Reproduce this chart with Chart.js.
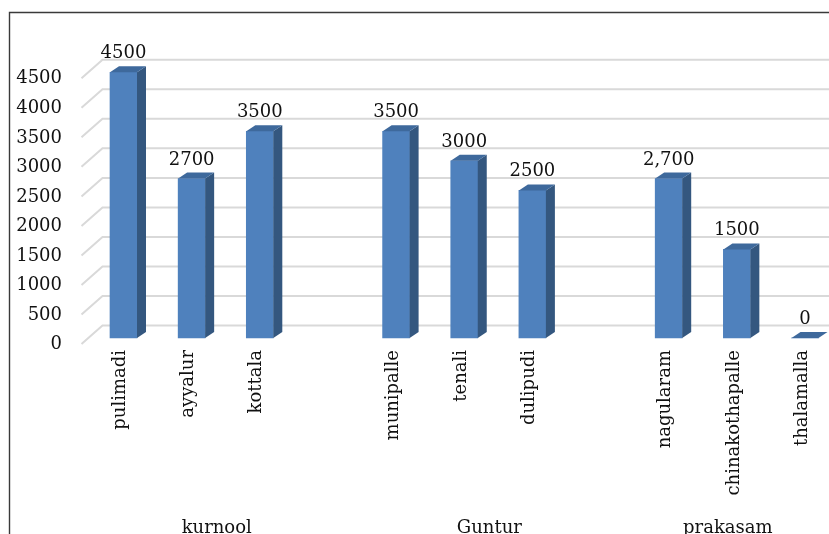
<!DOCTYPE html>
<html>
<head>
<meta charset="utf-8">
<script src="https://cdn.jsdelivr.net/npm/chart.js@4/dist/chart.umd.min.js"></script>
<style>
  html, body { margin: 0; padding: 0; background: #ffffff; }
  canvas { display: block; }
</style>
</head>
<body>
<canvas id="chart" width="829" height="534"></canvas>
<script>
// Villages, grouped by district; empty slots separate the districts
const villages = ['pulimadi', 'ayyalur', 'kottala', '', 'munipalle', 'tenali', 'dulipudi', '', 'nagularam', 'chinakothapalle', 'thalamalla'];
const values = [4500, 2700, 3500, null, 3500, 3000, 2500, null, 2700, 1500, 0];
const valueLabels = ['4500', '2700', '3500', '', '3500', '3000', '2500', '', '2,700', '1500', '0'];
const districts = ['kurnool', 'Guntur', 'prakasam'];
const districtSpans = [[0, 3], [4, 7], [8, 10]];
const yTickValues = [0, 500, 1000, 1500, 2000, 2500, 3000, 3500, 4000, 4500];

const FONT = 'DejaVu Serif';
const FONT_SIZE = 18;
const TEXT_COLOR = '#111111';
const FRONT = '#4F81BD';
const SIDE = '#34577F';
const TOP = '#3E699C';
const BAR_DX = 9, BAR_DY = -6;   // depth of each column
const WALL_DY = -12.5;           // back wall, relative to the column front
const FLOOR_DY = 6;              // front edge of the floor

const depthPlugin = {
  id: 'depth',
  beforeDatasetsDraw(chart) {
    const { ctx, scales: { y }, chartArea, width } = chart;
    const frontX = chartArea.left - 42;
    const wallX = chartArea.left - 21;
    ctx.save();
    ctx.strokeStyle = '#D9D9D9';
    ctx.lineWidth = 2;
    yTickValues.forEach(v => {
      const py = y.getPixelForValue(v);
      ctx.beginPath();
      ctx.moveTo(frontX, py + FLOOR_DY);
      ctx.lineTo(wallX, py + WALL_DY);
      ctx.lineTo(width, py + WALL_DY);
      ctx.stroke();
    });
    ctx.restore();
  },
  afterDatasetsDraw(chart) {
    const { ctx } = chart;
    const meta = chart.getDatasetMeta(0);
    ctx.save();
    meta.data.forEach((bar, i) => {
      if (values[i] === null) return;
      const { x, y, base, width } = bar.getProps(['x', 'y', 'base', 'width'], true);
      const l = x - width / 2, r = x + width / 2;
      // right side face
      ctx.fillStyle = SIDE;
      ctx.beginPath();
      ctx.moveTo(r, y);
      ctx.lineTo(r + BAR_DX, y + BAR_DY);
      ctx.lineTo(r + BAR_DX, base + BAR_DY);
      ctx.lineTo(r, base);
      ctx.closePath();
      ctx.fill();
      // top face
      ctx.fillStyle = TOP;
      ctx.beginPath();
      ctx.moveTo(l, y);
      ctx.lineTo(l + BAR_DX, y + BAR_DY);
      ctx.lineTo(r + BAR_DX, y + BAR_DY);
      ctx.lineTo(r, y);
      ctx.closePath();
      ctx.fill();
      // value label
      ctx.fillStyle = TEXT_COLOR;
      ctx.font = FONT_SIZE + 'px "' + FONT + '"';
      ctx.textAlign = 'center';
      ctx.textBaseline = 'alphabetic';
      ctx.fillText(valueLabels[i], x, y - 14);
    });
    ctx.restore();
  },
  afterDraw(chart) {
    const { ctx, scales: { x }, width, height } = chart;
    ctx.save();
    // district names under the village labels
    ctx.fillStyle = TEXT_COLOR;
    ctx.font = FONT_SIZE + 'px "' + FONT + '"';
    ctx.textAlign = 'center';
    ctx.textBaseline = 'alphabetic';
    districts.forEach((name, k) => {
      const [a, b] = districtSpans[k];
      const cx = (x.getPixelForTick(a) + x.getPixelForTick(b)) / 2 - 9;
      ctx.fillText(name, cx, 533);
    });
    // outer frame
    ctx.strokeStyle = '#3A3A3A';
    ctx.lineWidth = 1.4;
    ctx.beginPath();
    ctx.moveTo(9.5, height);
    ctx.lineTo(9.5, 12.5);
    ctx.lineTo(width, 12.5);
    ctx.stroke();
    ctx.restore();
  }
};

new Chart(document.getElementById('chart'), {
  type: 'bar',
  data: {
    labels: villages,
    datasets: [{
      data: values,
      backgroundColor: FRONT,
      borderWidth: 0,
      barThickness: 27,
      clip: false,
      skipNull: true
    }]
  },
  options: {
    responsive: false,
    animation: false,
    events: [],
    layout: { padding: { top: 52, right: 24, left: 0, bottom: 0 } },
    plugins: { legend: { display: false }, tooltip: { enabled: false } },
    scales: {
      x: {
        type: 'category',
        offset: false,
        grid: { display: false, drawTicks: false },
        border: { display: false },
        ticks: {
          autoSkip: false,
          minRotation: 90,
          maxRotation: 90,
          padding: 12,
          labelOffset: -3,
          color: TEXT_COLOR,
          font: { family: FONT, size: FONT_SIZE }
        },
        afterFit(scale) {
          scale.height = 196;
          scale.paddingLeft = 0;
          scale.paddingRight = 0;
        }
      },
      y: {
        min: 0,
        max: 4500,
        grid: { display: false, drawTicks: false },
        border: { display: false },
        ticks: {
          stepSize: 500,
          padding: 61.5,
          labelOffset: 6.5,
          color: TEXT_COLOR,
          font: { family: FONT, size: FONT_SIZE },
          callback: v => String(v)
        },
        afterFit(scale) { scale.width = 123.5; }
      }
    }
  },
  plugins: [depthPlugin]
});
</script>
</body>
</html>
